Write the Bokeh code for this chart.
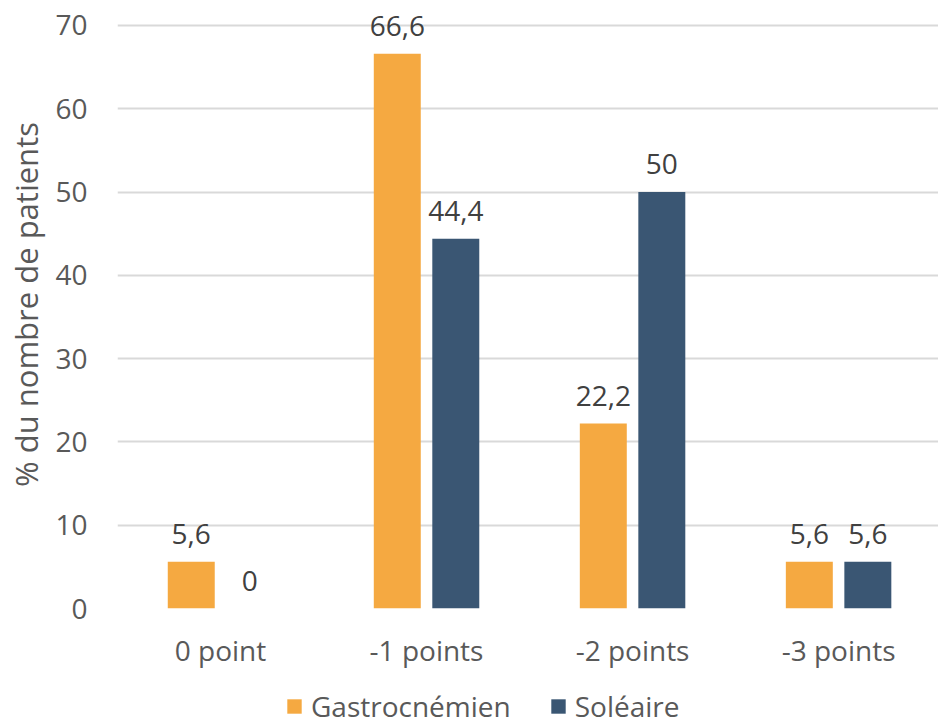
from bokeh.plotting import figure
from bokeh.layouts import column
from bokeh.models import ColumnDataSource, Range1d, FixedTicker, Legend, LegendItem, LabelSet
from bokeh.core.properties import value
from bokeh.embed import file_html
from bokeh.resources import INLINE

categories = ["0 point", "-1 points", "-2 points", "-3 points"]
gastrocnemien = [5.6, 66.6, 22.2, 5.6]
soleaire = [0, 44.4, 50, 5.6]
series_names = ["Gastrocnémien", "Soléaire"]
y_ticks = [0, 10, 20, 30, 40, 50, 60, 70]

FONT = "Open Sans"
ORANGE = "#F5A941"
BLUE = "#3A5673"
AXIS_GREY = "#595959"
LABEL_GREY = "#404040"
FS = "28px"

def fmt(v):
    return f"{v:g}".replace(".", ",")

idx = list(range(len(categories)))
offset = 0.142
bar_w = 0.228

src_g = ColumnDataSource(dict(x=[i - offset for i in idx], top=gastrocnemien,
                              txt=[fmt(v) for v in gastrocnemien]))
src_s = ColumnDataSource(dict(x=[i + offset for i in idx], top=soleaire,
                              txt=[fmt(v) for v in soleaire]))

# main chart; the value axis runs a little past 70 so the top label has room
chart = figure(width=938, height=671, output_backend="svg", toolbar_location=None,
               x_range=Range1d(-0.5, 3.485), y_range=Range1d(0, 73.0),
               min_border_left=117, min_border_right=0, min_border_top=0,
               min_border_bottom=63)
chart.outline_line_color = None
chart.background_fill_color = "white"
chart.border_fill_color = "white"

chart.vbar(x="x", top="top", width=bar_w, source=src_g, fill_color=ORANGE, line_color=None)
chart.vbar(x="x", top="top", width=bar_w, source=src_s, fill_color=BLUE, line_color=None)

for src in (src_g, src_s):
    chart.add_layout(LabelSet(x="x", y="top", text="txt", source=src, y_offset=18,
                              text_align="center", text_baseline="alphabetic",
                              text_font=value(FONT), text_font_size=value(FS),
                              text_color=LABEL_GREY))

chart.xaxis.ticker = FixedTicker(ticks=idx)
chart.xaxis.major_label_overrides = {i: c for i, c in zip(idx, categories)}
chart.xaxis.axis_line_color = None
chart.xaxis.major_tick_line_color = None
chart.xaxis.minor_tick_line_color = None
chart.xaxis.major_label_standoff = 16
chart.xaxis.major_label_text_font = FONT
chart.xaxis.major_label_text_font_size = FS
chart.xaxis.major_label_text_color = AXIS_GREY

chart.yaxis.ticker = FixedTicker(ticks=y_ticks)
chart.yaxis.axis_line_color = None
chart.yaxis.major_tick_line_color = None
chart.yaxis.minor_tick_line_color = None
chart.yaxis.major_label_standoff = 24
chart.yaxis.major_label_text_font = FONT
chart.yaxis.major_label_text_font_size = FS
chart.yaxis.major_label_text_color = AXIS_GREY
chart.yaxis.axis_label = "% du nombre de patients"
chart.yaxis.axis_label_text_font = FONT
chart.yaxis.axis_label_text_font_size = "31px"
chart.yaxis.axis_label_text_font_style = "normal"
chart.yaxis.axis_label_text_color = AXIS_GREY
chart.yaxis.axis_label_standoff = 5

chart.xgrid.grid_line_color = None
chart.ygrid.grid_line_color = "#D9D9D9"
chart.ygrid.grid_line_width = 2

# legend strip under the chart; its swatch renderers sit outside the visible range
key = figure(width=938, height=54, output_backend="svg", toolbar_location=None,
             x_range=Range1d(0, 1), y_range=Range1d(0, 1),
             min_border=0, outline_line_color=None)
key.axis.visible = False
key.grid.visible = False
k_g = key.vbar(x=[5], top=[1], width=0.1, fill_color=ORANGE, line_color=None)
k_s = key.vbar(x=[5], top=[1], width=0.1, fill_color=BLUE, line_color=None)
legend = Legend(items=[LegendItem(label=series_names[0], renderers=[k_g]),
                       LegendItem(label=series_names[1], renderers=[k_s])],
                orientation="horizontal", location=(168, 0),
                label_text_font=FONT, label_text_font_size=FS,
                label_text_color=AXIS_GREY, glyph_width=18, glyph_height=18,
                label_standoff=8, spacing=38, padding=0, margin=0,
                border_line_color=None, background_fill_alpha=0)
key.add_layout(legend, "center")

p = column(chart, key, spacing=0)

open("out.html", "w").write(file_html(p, INLINE))
